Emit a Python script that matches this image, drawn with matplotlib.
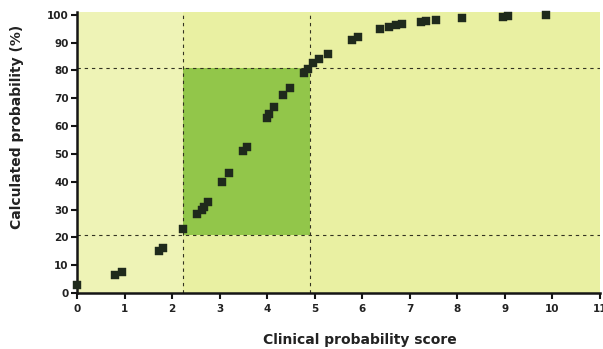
import matplotlib
matplotlib.use("Agg")
import matplotlib.pyplot as plt
from matplotlib.patches import Rectangle

# Data
score = [0.0, 0.80, 0.95, 1.72, 1.80, 2.22, 2.53, 2.62, 2.67, 2.76, 3.04, 3.19,
         3.49, 3.57, 3.99, 4.04, 4.14, 4.33, 4.47, 4.77, 4.85, 4.96, 5.08, 5.27,
         5.78, 5.90, 6.38, 6.57, 6.70, 6.83, 7.23, 7.35, 7.56, 8.10, 8.95, 9.06, 9.87]
prob = [3.0, 6.5, 7.5, 15.0, 16.0, 23.0, 28.5, 30.0, 31.0, 32.7, 39.8, 43.0,
        51.0, 52.5, 63.0, 64.2, 67.0, 71.0, 73.7, 79.0, 80.5, 82.7, 84.0, 86.0,
        91.0, 92.0, 95.0, 95.7, 96.4, 96.8, 97.5, 97.7, 98.2, 98.9, 99.3, 99.6, 100.0]

score_lo, score_hi = 2.22, 4.9
prob_lo, prob_hi = 21, 81
x_ticks = list(range(0, 12))
y_ticks = list(range(0, 101, 10))

font = "DejaVu Sans"
fig = plt.figure(figsize=(6.03, 3.49), dpi=100)
ax = fig.add_axes([77/603, 1-293/349, (600-77)/603, (293-12)/349])
ax.set_xlim(0, 11)
ax.set_ylim(0, 101)

ax.set_facecolor("#e9f0a2")
# lighter region left
ax.add_patch(Rectangle((0, 0), score_lo, 101, facecolor="#eef3b6", edgecolor="none", zorder=0))
# dark green box
ax.add_patch(Rectangle((score_lo, prob_lo), score_hi-score_lo, prob_hi-prob_lo,
                       facecolor="#92c64a", edgecolor="none", zorder=1))

ls = (0, (3, 3.5))
for xv in (score_lo, score_hi):
    ax.axvline(xv, color="#333322", lw=0.8, ls=ls, zorder=2)
for yv in (prob_lo, prob_hi):
    ax.axhline(yv, color="#333322", lw=0.8, ls=ls, zorder=2)

ax.scatter(score, prob, marker="s", s=26, color="#1f2a1c", edgecolor="#1f2a1c",
           linewidth=0.3, zorder=3, clip_on=False)

ax.spines["top"].set_visible(False)
ax.spines["right"].set_visible(False)
for s in ("left", "bottom"):
    ax.spines[s].set_linewidth(1.8)
    ax.spines[s].set_color("#151515")

ax.set_xticks(x_ticks)
ax.set_yticks(y_ticks)
ax.tick_params(axis="both", direction="out", length=4, width=1.5, color="#151515",
               pad=2)
ax.tick_params(axis="x", pad=4)
for lab in ax.get_xticklabels() + ax.get_yticklabels():
    lab.set_fontfamily(font)
    lab.set_fontweight("bold")
    lab.set_fontsize(7.5)
    lab.set_color("#222222")

fig.text(360/603, 1-340/349, "Clinical probability score", ha="center", va="center",
         fontsize=10, fontweight="bold", family=font, color="#222222")
fig.text(17/603, 1-127/349, "Calculated probability (%)", ha="center", va="center",
         rotation=90, fontsize=10, fontweight="bold", family=font, color="#222222")

fig.savefig("out.png", dpi=100)
